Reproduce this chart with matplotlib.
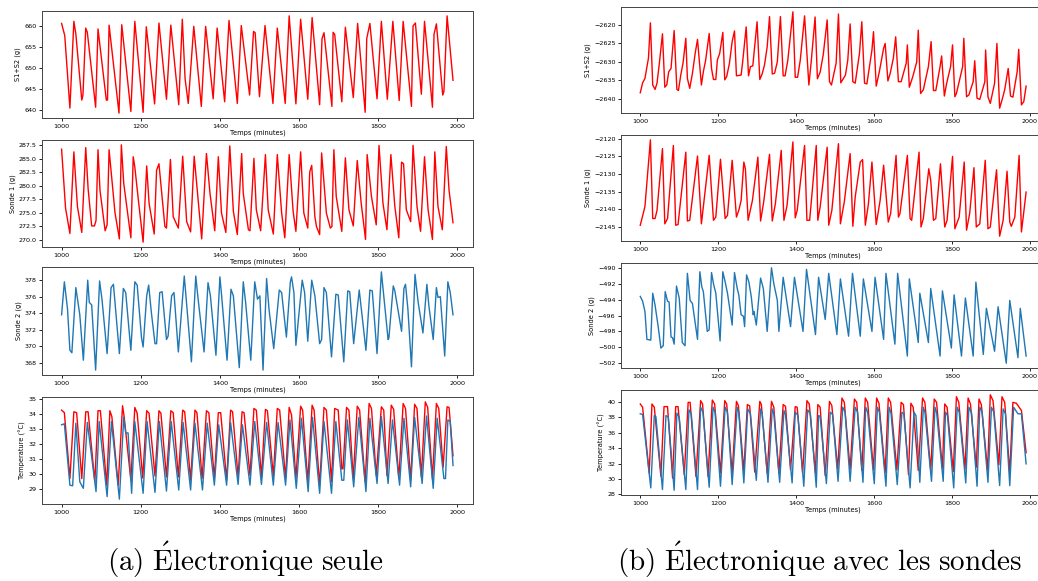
# Recreation of two columns of time series (Electronique seule / avec les sondes)
import matplotlib
matplotlib.use('Agg')
import matplotlib.pyplot as plt
from matplotlib.ticker import MultipleLocator
import numpy as np

plt.rcParams['mathtext.fontset'] = 'cm'

# ---- data: (time in minutes, value) vertices ----
# (a) electronique seule
a_s12 = [(1000,660.6),(1008,657.7),(1021,640.5),(1031,661.1),(1036,658.1),(1051,642.4),(1054,643.6),(1061,659.5),(1065,658.5),
         (1086,640.7),(1092,659.3),(1113,642.4),(1116,642.4),(1120,660.2),(1145,639.3),(1152,660.3),(1175,639.7),(1185,661.1),
         (1206,639.5),(1214,659.8),(1235,641.5),(1246,660.7),(1265,642.6),(1276,660.2),(1296,641.3),(1305,661.6),(1312,647.5),
         (1320,641.6),(1334,659.9),(1353,640.9),(1364,659.9),(1383,642.7),(1393,659.5),(1412,642.0),(1423,661.3),(1444,641.6),
         (1454,660.1),(1475,643.6),(1485,658.7),(1489,658.4),(1500,643.2),(1514,660.1),(1534,641.6),(1545,659.5),(1565,641.6),
         (1575,662.4),(1592,641.5),(1604,661.6),(1622,642.6),(1633,662.0),(1652,641.3),(1658,657.0),(1663,658.4),(1683,640.9),
         (1686,658.5),(1690,658.0),(1708,642.0),(1717,659.7),(1737,643.0),(1748,660.6),(1767,639.5),(1771,657.0),(1779,660.6),
         (1797,642.7),(1808,661.1),(1823,642.6),(1837,661.1),(1853,642.3),(1863,661.1),(1884,640.9),(1888,660.0),(1894,660.7),
         (1909,643.8),(1917,661.1),(1937,640.7),(1941,658.0),(1947,660.5),(1963,643.6),(1966,644.4),(1974,662.4),(1989,647.1)]

a_s1 = [(1000,286.8),(1010,275.9),(1021,271.2),(1031,286.3),(1040,276.2),(1051,271.4),(1061,287.1),(1067,279.5),(1076,272.6),
        (1083,272.6),(1087,273.6),(1092,286.7),(1097,279.2),(1110,271.7),(1115,272.8),(1120,286.7),(1135,275.0),(1146,270.2),
        (1151,287.6),(1157,280.5),(1175,270.4),(1181,285.4),(1185,283.5),(1194,277.4),(1206,269.6),(1215,283.7),(1221,276.8),
        (1234,271.1),(1240,282.9),(1246,284.1),(1261,272.5),(1265,272.2),(1275,284.9),(1282,274.3),(1295,272.2),(1306,285.5),
        (1316,273.4),(1326,271.5),(1335,285.5),(1354,270.2),(1366,286.0),(1375,278.6),(1387,271.7),(1396,285.4),(1404,275.0),
        (1415,271.4),(1425,287.4),(1434,275.3),(1444,271.0),(1455,286.0),(1459,278.6),(1472,271.9),(1476,271.7),(1486,285.1),
        (1492,275.6),(1503,271.7),(1515,285.8),(1522,275.6),(1535,271.1),(1545,285.8),(1556,275.0),(1564,270.4),(1575,285.8),
        (1585,275.3),(1592,271.6),(1604,286.3),(1612,275.0),(1622,272.2),(1627,282.6),(1632,283.8),(1640,274.3),(1644,272.5),
        (1652,271.0),(1657,286.1),(1669,275.0),(1679,272.2),(1683,272.5),(1688,286.7),(1694,278.0),(1708,271.6),(1717,285.2),
        (1726,275.6),(1737,272.6),(1747,284.7),(1757,276.8),(1768,270.1),(1772,285.8),(1783,278.0),(1795,272.8),(1802,287.5),
        (1812,276.8),(1822,271.9),(1832,285.8),(1842,276.2),(1852,270.4),(1859,284.4),(1864,284.1),(1871,275.6),(1882,273.4),
        (1888,287.5),(1898,276.2),(1907,271.6),(1917,285.4),(1926,275.6),(1937,270.1),(1943,286.3),(1951,276.2),(1962,271.9),
        (1972,287.3),(1979,279.2),(1989,273.2)]

a_s2 = [(1000,373.8),(1007,377.8),(1015,374.5),(1021,369.5),(1026,369.2),(1036,377.1),(1046,373.8),(1055,368.3),(1066,378.0),
        (1070,375.3),(1076,375.0),(1086,367.1),(1096,377.9),(1102,375.7),(1115,369.1),(1125,377.1),(1131,377.5),(1146,369.1),
        (1156,377.0),(1162,376.5),(1175,369.5),(1185,377.8),(1191,377.4),(1202,371.0),(1206,369.9),(1215,376.1),(1220,377.4),
        (1227,374.0),(1236,370.3),(1240,370.3),(1248,376.5),(1254,376.6),(1265,370.8),(1269,371.2),(1278,376.1),(1284,376.5),
        (1295,369.3),(1310,378.5),(1317,374.5),(1328,368.1),(1339,378.5),(1345,375.7),(1360,369.3),(1370,377.7),(1376,376.1),
        (1390,368.9),(1400,378.4),(1404,376.3),(1418,368.3),(1428,376.9),(1434,376.1),(1449,367.4),(1459,377.8),(1465,375.3),
        (1478,368.3),(1488,377.8),(1495,375.7),(1501,376.1),(1509,367.1),(1518,378.2),(1524,374.5),(1536,369.7),(1550,376.8),
        (1556,376.5),(1568,371.1),(1578,377.8),(1581,378.4),(1587,376.5),(1592,370.1),(1608,378.0),(1614,376.5),(1622,370.6),
        (1632,378.0),(1640,376.1),(1652,370.3),(1657,370.8),(1663,377.1),(1669,376.5),(1682,368.7),(1693,376.3),(1699,376.2),
        (1713,368.1),(1723,376.7),(1728,376.6),(1738,370.3),(1752,376.8),(1769,369.5),(1779,376.8),(1785,376.7),(1797,369.1),
        (1808,379.0),(1814,376.1),(1825,370.8),(1827,371.0),(1838,377.3),(1842,376.7),(1859,371.8),(1865,377.0),(1869,377.5),
        (1875,374.5),(1884,367.5),(1893,378.7),(1901,375.3),(1913,371.6),(1923,377.5),(1928,374.9),(1939,370.8),(1947,377.1),
        (1951,375.9),(1957,376.0),(1968,368.8),(1976,377.8),(1982,376.5),(1989,373.8)]

a_temp_red = [(1000,34.28),(1007,34.11),(1021,29.72),(1031,34.17),(1038,34.11),(1051,29.72),(1061,34.17),(1067,34.17),
              (1084,29.50),(1092,34.24),(1098,34.24),(1114,29.28),(1122,34.24),(1127,33.85),(1143,29.28),(1154,34.57),
              (1158,33.85),(1175,29.61),(1185,34.46),(1191,34.07),(1205,29.76),(1215,34.24),(1221,34.07),(1236,29.89),
              (1246,34.24),(1251,34.07),(1265,29.83),(1276,34.24),(1282,34.11),(1295,29.83),(1306,34.28),(1311,34.17),
              (1326,29.61),(1337,34.28),(1342,34.11),(1355,29.72),(1366,34.24),(1372,34.11),(1386,29.76),(1396,34.11),
              (1402,34.11),(1417,29.61),(1427,34.28),(1432,34.17),(1446,29.83),(1456,34.17),(1461,34.11),(1476,29.93),
              (1486,34.39),(1492,34.28),(1505,29.83),(1515,34.33),(1520,34.24),(1535,29.89),(1545,34.39),(1551,34.28),
              (1566,29.72),(1575,34.46),(1581,33.96),(1592,29.72),(1604,34.54),(1609,34.28),(1622,29.50),(1633,34.61),
              (1638,34.28),(1652,29.28),(1663,34.46),(1669,34.28),(1682,29.50),(1690,34.39),(1699,34.28),(1708,30.37),
              (1711,30.37),(1720,34.46),(1726,34.28),(1737,29.72),(1747,34.54),(1753,34.28),(1767,29.50),(1777,34.72),
              (1783,34.39),(1795,29.93),(1808,34.50),(1814,34.28),(1822,29.93),(1833,34.61),(1839,34.33),(1852,29.72),
              (1863,34.72),(1869,34.39),(1882,29.61),(1892,34.67),(1898,34.39),(1909,29.83),(1919,34.83),(1925,34.46),
              (1937,29.72),(1947,34.72),(1953,34.39),(1964,30.48),(1974,34.50),(1979,34.46),(1989,31.24)]

a_temp_blue = [(1000,33.30),(1007,33.37),(1021,29.28),(1028,29.24),(1036,33.41),(1046,29.50),(1055,29.07),(1065,33.46),
               (1087,28.85),(1095,33.52),(1115,28.52),(1126,33.52),(1146,28.35),(1157,33.80),(1162,32.76),(1168,32.76),
               (1177,28.74),(1185,33.52),(1206,28.74),(1216,33.52),(1236,28.80),(1247,33.52),(1265,28.89),(1277,33.52),
               (1296,28.96),(1307,33.46),(1326,28.96),(1337,33.41),(1356,28.96),(1368,33.41),(1386,29.28),(1397,33.30),
               (1417,29.28),(1427,33.46),(1446,29.33),(1457,33.30),(1476,29.28),(1488,33.52),(1505,29.33),(1518,33.46),
               (1535,29.28),(1547,33.46),(1566,29.28),(1577,33.63),(1593,29.07),(1606,33.74),(1623,28.85),(1634,33.80),
               (1652,28.74),(1663,33.52),(1682,28.74),(1693,33.52),(1708,29.61),(1713,29.61),(1722,33.63),(1738,29.17),
               (1751,33.80),(1769,28.85),(1779,33.74),(1797,29.39),(1808,33.85),(1825,29.39),(1836,33.63),(1854,29.28),
               (1865,33.74),(1882,29.17),(1892,33.80),(1911,29.39),(1922,33.89),(1939,29.07),(1949,33.74),(1966,29.72),
               (1970,29.72),(1976,33.63),(1982,33.52),(1989,30.59)]

# (b) electronique avec les sondes
b_s12 = [(1000,-2638.4),(1006,-2635.7),(1012,-2634.5),(1021,-2629.0),(1026,-2619.4),(1032,-2636.3),(1038,-2637.5),
         (1043,-2635.8),(1049,-2630.4),(1057,-2622.4),(1063,-2636.9),(1068,-2636.3),(1073,-2632.7),(1079,-2631.8),
         (1087,-2621.5),(1094,-2637.5),(1098,-2637.8),(1104,-2633.6),(1110,-2630.2),(1117,-2623.6),(1121,-2634.5),
         (1127,-2637.2),(1134,-2633.1),(1141,-2627.7),(1147,-2623.9),(1157,-2636.3),(1162,-2632.7),(1168,-2629.5),
         (1177,-2622.3),(1183,-2631.8),(1188,-2634.8),(1194,-2634.8),(1198,-2629.5),(1204,-2627.7),(1212,-2622.0),
         (1217,-2634.9),(1222,-2634.0),(1229,-2630.4),(1236,-2624.5),(1242,-2621.6),(1247,-2633.8),(1259,-2633.6),
         (1263,-2630.0),(1272,-2620.5),(1278,-2633.8),(1283,-2631.3),(1289,-2631.1),(1300,-2619.1),(1307,-2634.8),
         (1313,-2633.3),(1319,-2630.9),(1326,-2625.9),(1332,-2617.7),(1339,-2633.3),(1345,-2633.1),(1352,-2630.0),
         (1360,-2617.7),(1367,-2633.8),(1372,-2633.8),(1379,-2629.5),(1392,-2616.4),(1398,-2634.2),(1404,-2634.2),
         (1411,-2629.5),(1422,-2617.5),(1433,-2636.3),(1439,-2630.0),(1449,-2617.8),(1455,-2634.6),(1462,-2632.8),
         (1470,-2628.0),(1480,-2618.6),(1486,-2635.4),(1491,-2636.3),(1503,-2630.4),(1509,-2617.0),(1515,-2635.7),
         (1527,-2633.6),(1533,-2629.5),(1539,-2619.7),(1546,-2635.4),(1552,-2635.8),(1563,-2627.7),(1569,-2619.1),
         (1576,-2635.8),(1582,-2636.0),(1595,-2626.8),(1599,-2621.8),(1606,-2636.6),(1614,-2632.7),(1625,-2626.3),
         (1629,-2625.0),(1636,-2635.2),(1642,-2633.1),(1650,-2629.0),(1656,-2623.2),(1663,-2635.4),(1670,-2635.4),
         (1683,-2630.4),(1686,-2625.4),(1691,-2636.9),(1700,-2634.0),(1710,-2630.0),(1714,-2621.4),(1720,-2638.6),
         (1727,-2637.6),(1740,-2631.3),(1747,-2624.5),(1753,-2637.8),(1759,-2637.8),(1770,-2631.3),(1774,-2628.4),
         (1781,-2639.3),(1787,-2635.8),(1797,-2631.3),(1802,-2625.4),(1808,-2639.5),(1812,-2638.6),(1828,-2631.3),
         (1831,-2623.6),(1838,-2639.5),(1844,-2639.0),(1855,-2635.4),(1859,-2629.7),(1865,-2639.9),(1872,-2640.2),
         (1885,-2635.4),(1887,-2626.8),(1893,-2639.5),(1899,-2641.3),(1910,-2635.8),(1916,-2625.0),(1923,-2642.6),
         (1929,-2640.4),(1936,-2637.6),(1945,-2631.8),(1951,-2639.3),(1957,-2639.6),(1968,-2632.7),(1972,-2626.6),
         (1979,-2641.7),(1985,-2640.8),(1991,-2636.6)]

b_s1 = [(1000,-2144.5),(1012,-2139.2),(1026,-2120.3),(1032,-2142.6),(1038,-2142.6),(1043,-2140.3),(1057,-2122.8),
        (1063,-2144.1),(1070,-2142.6),(1085,-2121.9),(1091,-2144.5),(1097,-2144.3),(1117,-2123.8),(1121,-2143.3),
        (1127,-2143.1),(1147,-2124.9),(1157,-2144.1),(1177,-2124.7),(1188,-2143.1),(1194,-2142.2),(1206,-2125.8),
        (1218,-2142.6),(1224,-2141.7),(1236,-2126.1),(1247,-2142.2),(1253,-2140.3),(1259,-2137.5),(1266,-2126.6),
        (1270,-2128.5),(1277,-2143.1),(1288,-2137.5),(1302,-2125.2),(1309,-2143.3),(1317,-2137.9),(1332,-2124.4),
        (1339,-2143.3),(1347,-2138.4),(1362,-2123.3),(1369,-2143.1),(1377,-2138.9),(1392,-2120.9),(1398,-2142.4),
        (1403,-2140.3),(1422,-2121.9),(1428,-2143.1),(1435,-2143.1),(1452,-2121.9),(1456,-2143.1),(1462,-2139.3),
        (1480,-2122.4),(1484,-2144.5),(1492,-2140.3),(1509,-2121.4),(1514,-2144.1),(1524,-2137.9),(1539,-2124.2),
        (1546,-2144.8),(1552,-2136.5),(1565,-2126.6),(1571,-2125.9),(1578,-2144.5),(1586,-2138.4),(1595,-2126.6),
        (1606,-2144.3),(1616,-2137.5),(1625,-2127.5),(1637,-2143.6),(1643,-2141.2),(1657,-2124.7),(1663,-2142.2),
        (1667,-2141.2),(1686,-2124.7),(1693,-2142.6),(1697,-2143.1),(1716,-2123.8),(1721,-2145.0),(1727,-2142.6),
        (1741,-2128.5),(1746,-2131.8),(1753,-2143.1),(1759,-2142.6),(1771,-2127.1),(1782,-2145.0),(1788,-2143.1),
        (1802,-2125.0),(1808,-2145.5),(1819,-2142.2),(1832,-2126.6),(1838,-2145.9),(1846,-2141.2),(1857,-2128.2),
        (1863,-2145.0),(1872,-2144.1),(1886,-2126.1),(1893,-2145.5),(1899,-2145.0),(1915,-2128.8),(1923,-2147.6),
        (1932,-2143.1),(1942,-2129.2),(1949,-2143.6),(1953,-2144.8),(1962,-2142.2),(1973,-2124.7),(1979,-2146.4),
        (1991,-2135.1)]

b_s2 = [(1000,-493.6),(1006,-494.2),(1012,-495.5),(1017,-499.0),(1027,-499.1),(1032,-493.2),(1038,-494.7),(1046,-497.4),
        (1053,-500.1),(1059,-499.8),(1064,-493.0),(1070,-494.2),(1074,-494.3),(1079,-498.7),(1083,-498.8),(1087,-499.6),
        (1093,-492.3),(1100,-493.8),(1108,-499.4),(1115,-499.8),(1121,-490.7),(1128,-494.1),(1134,-494.5),(1147,-499.0),
        (1153,-490.5),(1158,-492.4),(1162,-493.0),(1172,-498.0),(1177,-497.8),(1183,-490.6),(1188,-492.0),(1194,-493.2),
        (1205,-499.2),(1212,-490.5),(1219,-492.0),(1224,-493.2),(1236,-497.2),(1242,-490.6),(1249,-492.6),(1253,-493.4),
        (1259,-495.9),(1265,-496.1),(1268,-497.4),(1273,-490.9),(1279,-491.8),(1285,-493.6),(1290,-495.9),(1292,-495.5),
        (1298,-497.2),(1309,-491.3),(1316,-492.6),(1326,-498.0),(1337,-490.0),(1343,-492.0),(1352,-494.1),(1356,-498.0),
        (1367,-491.2),(1386,-497.4),(1396,-491.2),(1418,-498.0),(1427,-490.2),(1450,-498.4),(1458,-491.2),(1475,-496.5),
        (1484,-490.7),(1505,-498.4),(1514,-491.4),(1535,-498.6),(1545,-490.7),(1565,-498.6),(1573,-491.4),(1595,-498.0),
        (1603,-491.2),(1625,-499.0),(1631,-490.7),(1654,-499.6),(1661,-490.7),(1686,-501.1),(1691,-491.4),(1714,-499.4),
        (1718,-493.2),(1740,-499.4),(1746,-492.6),(1770,-501.1),(1776,-492.9),(1799,-500.1),(1806,-493.4),(1825,-501.1),
        (1835,-493.8),(1855,-501.1),(1862,-491.8),(1881,-500.9),(1889,-495.1),(1910,-500.5),(1919,-494.9),(1940,-502.0),
        (1949,-494.1),(1970,-501.3),(1976,-495.1),(1991,-501.1)]

b_temp_red = [(1000,39.70),(1006,39.28),(1023,30.77),(1030,39.70),(1036,39.28),(1053,30.34),(1061,39.36),(1070,39.36),
              (1083,30.13),(1091,39.36),(1097,39.36),(1113,30.55),(1123,39.91),(1128,39.91),(1143,30.34),(1155,40.13),
              (1160,39.70),(1174,30.34),(1185,40.21),(1191,39.70),(1206,30.77),(1217,40.13),(1222,39.70),(1236,30.77),
              (1247,40.04),(1252,39.49),(1266,30.98),(1275,39.62),(1281,39.45),(1294,30.89),(1307,40.04),(1311,39.62),
              (1326,30.77),(1337,40.04),(1343,39.28),(1356,30.77),(1367,39.62),(1373,39.40),(1386,31.19),(1398,39.36),
              (1403,39.28),(1417,30.77),(1428,40.13),(1434,39.70),(1450,30.77),(1456,39.62),(1462,39.28),(1475,30.43),
              (1486,40.04),(1492,39.49),(1507,31.28),(1518,40.47),(1524,39.91),(1539,31.28),(1550,40.34),(1556,39.91),
              (1569,31.11),(1578,40.47),(1584,39.91),(1599,31.19),(1607,40.47),(1613,39.79),(1629,30.85),(1637,40.47),
              (1643,39.91),(1659,31.19),(1670,39.91),(1676,39.62),(1689,30.55),(1695,39.79),(1701,39.28),(1714,31.11),
              (1725,40.47),(1731,39.91),(1746,31.11),(1755,40.34),(1761,39.91),(1776,31.40),(1782,39.70),(1788,39.28),
              (1804,30.98),(1812,40.64),(1818,39.91),(1834,31.28),(1842,40.47),(1848,39.70),(1863,31.53),(1870,40.34),
              (1876,39.62),(1892,31.19),(1899,40.89),(1906,40.13),(1921,31.83),(1929,40.64),(1936,39.91),(1949,30.77),
              (1957,39.91),(1966,39.79),(1979,38.85),(1991,33.40)]

b_temp_blue = [(1000,38.43),(1006,38.34),(1027,28.85),(1036,38.21),(1040,38.09),(1057,28.64),(1066,38.21),(1072,38.00),
               (1087,28.55),(1094,38.51),(1100,38.00),(1117,28.64),(1125,38.94),(1131,38.43),(1147,28.64),(1155,39.28),
               (1161,38.64),(1177,28.94),(1187,39.28),(1192,38.64),(1206,29.06),(1218,39.28),(1224,38.64),(1236,29.28),
               (1249,39.28),(1253,38.64),(1266,29.49),(1276,39.06),(1283,38.43),(1298,29.83),(1309,39.06),(1313,38.51),
               (1328,29.57),(1339,39.06),(1343,38.43),(1358,29.57),(1369,38.85),(1373,38.34),(1390,29.49),(1398,38.64),
               (1405,38.21),(1420,29.06),(1430,38.94),(1437,38.43),(1452,28.94),(1458,38.21),(1462,38.09),(1478,29.40),
               (1488,38.64),(1494,38.34),(1508,29.70),(1520,39.28),(1526,38.64),(1539,29.70),(1552,39.28),(1558,38.64),
               (1572,29.57),(1579,39.28),(1584,38.64),(1601,29.40),(1609,39.28),(1614,38.64),(1631,29.06),(1639,39.28),
               (1644,38.51),(1660,29.28),(1672,38.64),(1677,38.43),(1693,28.85),(1703,38.64),(1708,38.21),(1718,29.57),
               (1727,39.28),(1731,38.64),(1748,29.70),(1757,39.28),(1761,38.64),(1778,29.70),(1784,38.64),(1789,38.21),
               (1805,28.85),(1814,39.28),(1819,38.64),(1836,29.49),(1844,39.28),(1851,38.51),(1865,29.06),(1872,39.28),
               (1878,38.64),(1893,29.57),(1902,39.28),(1908,38.64),(1923,29.15),(1932,39.06),(1938,38.43),(1949,29.15),
               (1959,39.28),(1970,38.43),(1979,38.43),(1991,31.96)]

ylabels = ['S1+S2 (g)', 'Sonde 1 (g)', 'Sonde 2 (g)', 'Temperature (°C)']
captions = [r'$\mathrm{(a)\ \acute{E}lectronique\ seule}$',
            r'$\mathrm{(b)\ \acute{E}lectronique\ avec\ les\ sondes}$']

RED = 'red'
BLUE = '#1f77b4'

columns = [
    [[(a_s12, RED)], [(a_s1, RED)], [(a_s2, BLUE)], [(a_temp_red, RED), (a_temp_blue, BLUE)]],
    [[(b_s12, RED)], [(b_s1, RED)], [(b_s2, BLUE)], [(b_temp_red, RED), (b_temp_blue, BLUE)]],
]
ysteps = [[5, 2.5, 2, 1], [5, 5, 2, 2]]

# axes boxes in pixels: (left, right) per column, (top, bottom) per row
W, H = 1038, 581
col_x = [(42, 473), (621, 1045)]
row_y = [[(11, 118), (140, 247), (267, 375), (397, 504)],
         [(7, 113), (135, 241), (263, 368), (390, 495)]]
cap_x = [246, 820]

fig = plt.figure(figsize=(W / 100, H / 100), dpi=100)

for c in range(2):
    x0, x1 = col_x[c]
    for r in range(4):
        y0, y1 = row_y[c][r]
        ax = fig.add_axes([x0 / W, 1 - y1 / H, (x1 - x0) / W, (y1 - y0) / H])
        for pairs, color in columns[c][r]:
            t, v = np.array(pairs).T
            ax.plot(t, v, color=color, lw=1.0)
        ax.set_xlim(950.5, 2039.5)
        ax.xaxis.set_major_locator(MultipleLocator(200))
        ax.yaxis.set_major_locator(MultipleLocator(ysteps[c][r]))
        if ysteps[c][r] == 2.5:
            ax.yaxis.set_major_formatter(matplotlib.ticker.FormatStrFormatter('%.1f'))
        ax.tick_params(labelsize=4.6, length=2.5, width=0.6, pad=1.5)
        for s in ax.spines.values():
            s.set_linewidth(0.7)
            s.set_color('#444444')
        ax.set_xlabel('Temps (minutes)', fontsize=4.8, labelpad=1)
        ax.set_ylabel(ylabels[r], fontsize=4.8, labelpad=2)
    fig.text(cap_x[c] / W, 1 - 571 / H, captions[c], ha='center', va='baseline', fontsize=21)

fig.savefig('out.png', dpi=100)
